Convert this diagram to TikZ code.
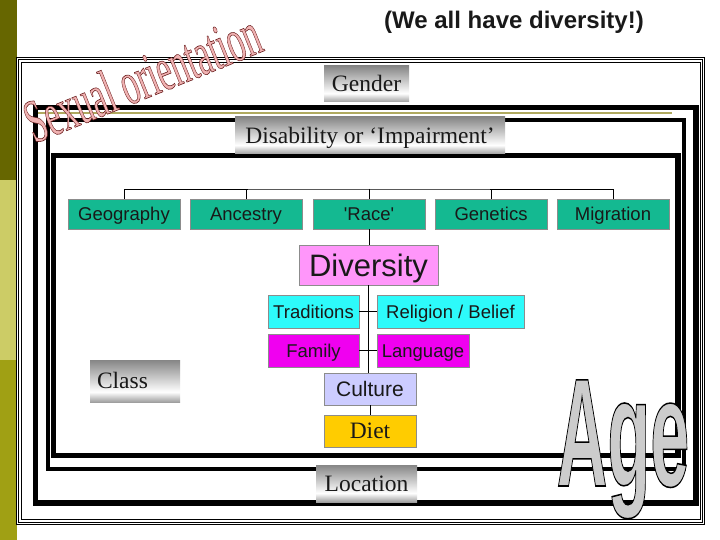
\documentclass[tikz,border=0pt]{standalone}
\usepackage{fontspec}
\setmainfont{Liberation Serif}
\newfontfamily\arialfont{Liberation Sans}
\usepackage{tikz}

\definecolor{barDark}{RGB}{102,102,0}
\definecolor{barLight}{RGB}{204,204,102}
\definecolor{barMid}{RGB}{160,160,20}
\definecolor{oliveLine}{RGB}{176,170,96}
\definecolor{tealFill}{RGB}{20,185,145}
\definecolor{cyanFill}{RGB}{45,250,250}
\definecolor{magFill}{RGB}{240,0,240}
\definecolor{pinkFill}{RGB}{255,150,250}
\definecolor{lilacFill}{RGB}{204,204,255}
\definecolor{goldFill}{RGB}{255,204,0}
\definecolor{wordPink}{RGB}{240,178,178}

% chrome look of the grey labels
\pgfdeclareverticalshading{metal}{100bp}{color(0bp)=(gray!75); color(25bp)=(gray!75); color(37bp)=(white); color(75bp)=(gray!95); color(100bp)=(gray!95)}

% letters filled and stroked
\newcommand{\outlined}[2]{\special{pdf:literal direct #1 RG 0.6 w 2 Tr}#2\special{pdf:literal direct 0 Tr}}

\begin{document}
\begin{tikzpicture}[x=1pt, y=-1pt,
        every node/.style={inner sep=0pt, text=black!90}, % no padding, sizes are given
        chart/.style={draw=black!45, line width=0.4pt, font=\arialfont\fontsize{18.5}{20}\selectfont, text height=13.3pt, text depth=0pt}, % boxes of the chart
        tealbox/.style={chart, fill=tealFill, minimum width=112pt, minimum height=30pt}, % top row
        metalbox/.style={shading=metal, font=\fontsize{23.5}{26}\selectfont, text height=15.6pt, text depth=0pt}, % grey labels on the frames
        band/.style={draw=black, line width=#1}, % black frames
        link/.style={line width=0.8pt}
        ]

    \useasboundingbox (0,0) rectangle (720,540);
    \fill[white] (0,0) rectangle (720,540);

    % coloured bar on the left
    \fill[barDark] (0,0) rectangle (17,180);
    \fill[barLight] (0,180) rectangle (17,360);
    \fill[barMid] (0,360) rectangle (17,540);

    % frames, outside to inside
    \draw[band=0.9pt] (16.5,57) rectangle (704.5,524);
    \draw[band=0.9pt] (18.5,59) rectangle (702.5,522);
    \draw[band=0.9pt] (21,62) rectangle (700.5,519);
    \draw[band=5.5pt] (35.5,107.5) rectangle (696,503);
    \draw[oliveLine, line width=2.5pt] (38,113) -- (672,113);
    \draw[band=4pt] (48,120) rectangle (684,468.5);
    \draw[band=5.5pt] (53.5,155.5) rectangle (678,455.5);

    \node[font=\arialfont\bfseries\fontsize{24}{26}\selectfont] (title) at (514,22) {(We all have diversity!)};

    % grey labels
    \node[metalbox, minimum width=85pt, minimum height=36pt] (gender) at (366.5,84) {Gender};
    \node[metalbox, minimum width=270pt, minimum height=37pt] (disability) at (370,135.5) {Disability or ‘Impairment’};
    \node[metalbox, minimum width=90pt, minimum height=42pt, text width=76pt, align=left] (class) at (135,381) {Class};
    \node[metalbox, minimum width=101pt, minimum height=37pt] (location) at (366.5,483.5) {Location};

    % top row
    \node[tealbox] (geography) at (124,214) {Geography};
    \node[tealbox] (ancestry) at (246,214) {Ancestry};
    \node[tealbox] (race) at (369,214) {'Race'};
    \node[tealbox] (genetics) at (491,214) {Genetics};
    \node[tealbox] (migration) at (613,214) {Migration};
    \coordinate (bus) at (369,189);

    \node[chart, fill=pinkFill, minimum width=139pt, minimum height=40pt, font=\arialfont\fontsize{31}{33}\selectfont, text height=22.2pt] (diversity) at (368.5,265) {Diversity};

    % pairs under Diversity
    \node[chart, fill=cyanFill, minimum width=91pt, minimum height=33pt] (traditions) at (313.5,311.5) {Traditions};
    \node[chart, fill=cyanFill, minimum width=147pt, minimum height=33pt] (religion) at (450.5,311.5) {Religion / Belief};
    \node[chart, fill=magFill, minimum width=91pt, minimum height=33pt] (family) at (313.5,350.5) {Family};
    \node[chart, fill=magFill, minimum width=92pt, minimum height=33pt] (language) at (423,350.5) {Language};

    \node[chart, fill=lilacFill, minimum width=92pt, minimum height=32pt, font=\arialfont\fontsize{21}{23}\selectfont, text height=15.1pt] (culture) at (370,389) {Culture};
    \node[chart, fill=goldFill, minimum width=92pt, minimum height=32pt, font=\fontsize{23.5}{26}\selectfont, text height=15.6pt] (diet) at (370,431) {Diet};

    % connectors
    \draw[link] (geography.north) |- (bus) -| (migration.north);
    \draw[link] (ancestry.north) -- (ancestry.north |- bus);
    \draw[link] (genetics.north) -- (genetics.north |- bus);
    \draw[link] (bus) -- (race.north);
    \draw[link] (race.south) -- (race.south |- diversity.north);
    \draw[link] (diversity.south) -- (diversity.south |- culture.north);
    \draw[link] (traditions.east) -- (religion.west);
    \draw[link] (family.east) -- (language.west);
    \draw[link] (culture.south) -- (diet.north);

    % word art on top
    \node[rotate=22, anchor=base, text=wordPink, font=\fontsize{62}{66}\selectfont] (sexual) at (150,97) {\scalebox{0.55}[1]{\outlined{0.4 0.1 0.1}{Sexual orientation}}};
    \node[anchor=base, text=gray!40, font=\arialfont\bfseries\fontsize{60}{64}\selectfont] (age) at (623,486) {\scalebox{1.17}[2.57]{\outlined{0 0 0}{Age}}};

\end{tikzpicture}
\end{document}
